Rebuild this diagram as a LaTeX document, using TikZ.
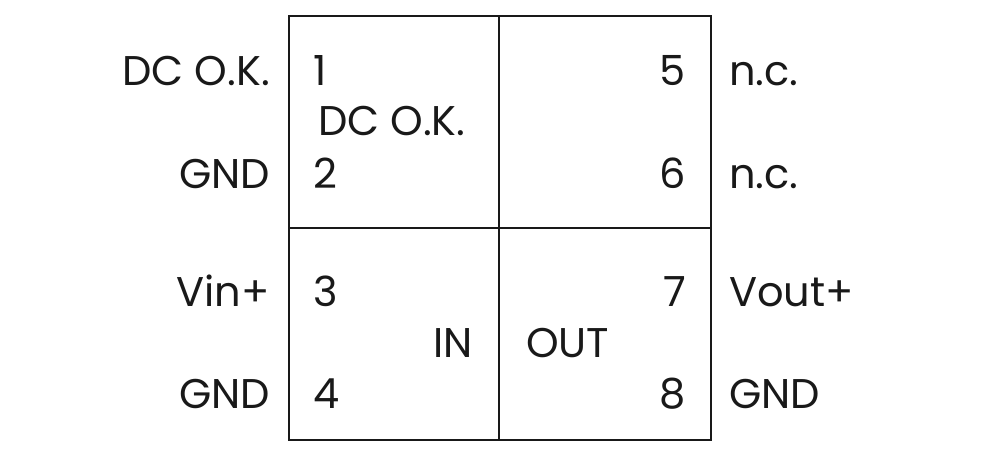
\documentclass[tikz,border=0pt]{standalone}
\usepackage{fontspec}
\setmainfont{Poppins}
\begin{document}
\begin{tikzpicture}[x=1pt,y=-1pt,
  lbl/.style={inner sep=0pt, font=\fontsize{41.5}{48}\selectfont, text=black!90},
  lw/.style={lbl, anchor=base west},
  le/.style={lbl, anchor=base east},
  frame/.style={draw=black!90, line width=2.8pt}]
\useasboundingbox (0,0) rectangle (1000,457);
\coordinate (tl) at (289,16);
\coordinate (br) at (711,440);
\coordinate (mt) at (499,16);
\coordinate (mb) at (499,440);
\coordinate (ml) at (289,228);
\coordinate (mr) at (711,228);
\draw[frame] (tl) rectangle (br);
\draw[frame] (mt) -- (mb);
\draw[frame] (ml) -- (mr);
% left outside labels
\node[le] (ldc) at (270,86) {DC O.K.};
\node[le] (lgnd1) at (270,188) {GND};
\node[le] (lvin) at (270,306) {Vin+};
\node[le] (lgnd2) at (270,408) {GND};
% left pins
\node[lw] (p1) at (313,86) {1};
\node[lw] (p2) at (313,188) {2};
\node[lw] (p3) at (313,306) {3};
\node[lw] (p4) at (313,408) {4};
\node[lw] (idc) at (318,136) {DC O.K.};
\node[le] (iin) at (473,357) {IN};
\node[lw] (iout) at (526,357) {OUT};
% right pins
\node[le] (p5) at (686,86) {5};
\node[le] (p6) at (686,188) {6};
\node[le] (p7) at (686,306) {7};
\node[le] (p8) at (686,408) {8};
% right outside labels
\node[lw] (rnc1) at (729,86) {n.c.};
\node[lw] (rnc2) at (729,188) {n.c.};
\node[lw] (rvout) at (729,306) {Vout+};
\node[lw] (rgnd) at (729,408) {GND};
\end{tikzpicture}
\end{document}
